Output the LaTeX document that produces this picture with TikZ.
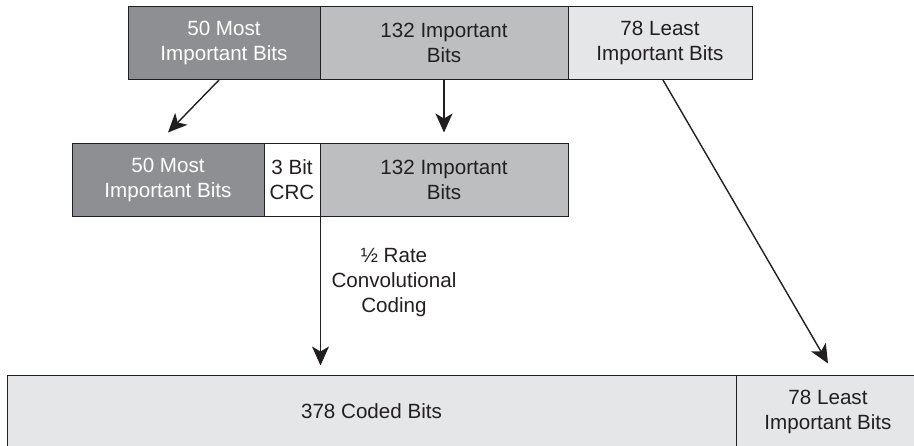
\documentclass[tikz,border=0pt]{standalone}
\usepackage{fontspec}
\setmainfont{Liberation Sans}
\usetikzlibrary{arrows.meta}
\definecolor{fonce}{HTML}{8E8F92}
\definecolor{moyen}{HTML}{BDBEC0}
\definecolor{clair}{HTML}{E5E6E7}
\definecolor{texte}{HTML}{231F20}
\begin{document}
\begin{tikzpicture}[x=1pt, y=-1pt]
\tikzset{bloc/.style={draw=texte, rectangle, line width=1pt, minimum height=73pt, inner sep=0pt, align=center, text=texte, font=\fontsize{20.6}{25}\selectfont}}
\tikzset{fleche/.style={draw=texte, line width=1.4pt, -{Stealth[length=19pt, width=17pt, inset=5pt]}}}
\useasboundingbox (0, 0) rectangle (914, 445);
\node[bloc, fill=fonce, text=white, minimum width=192pt] (H1) at (224, 43) {50 Most\\Important Bits};
\node[bloc, fill=moyen, minimum width=248pt] (H2) at (444, 43) {132 Important\\Bits};
\node[bloc, fill=clair, minimum width=184pt] (H3) at (660, 43) {78 Least\\Important Bits};
\node[bloc, fill=fonce, text=white, minimum width=192pt] (M1) at (168, 179.5) {50 Most\\Important Bits};
\node[bloc, fill=white, minimum width=56pt] (M2) at (292, 179.5) {3 Bit\\CRC};
\node[bloc, fill=moyen, minimum width=248pt] (M3) at (444, 179.5) {132 Important\\Bits};
\node[bloc, fill=clair, minimum width=729pt] (B1) at (371.5, 411.5) {378 Coded Bits};
\node[bloc, fill=clair, minimum width=184pt] (B2) at (828, 411.5) {78 Least\\Important Bits};
\node[align=center, text=texte, font=\fontsize{20.6}{25}\selectfont] (taux) at (394, 283) {½ Rate\\Convolutional\\Coding};
\draw[fleche] ([xshift=-5pt]H1.south) -- ([yshift=10pt]M1.north);
\draw[fleche] (H2.south) -- ([yshift=10pt]M3.north);
\draw[fleche, shorten >=9pt] (M2.south east) -- (M2.south east |- B1.north);
\draw[fleche] ([xshift=3pt]H3.south) -- ([yshift=11pt]B2.north);
\end{tikzpicture}
\end{document}
